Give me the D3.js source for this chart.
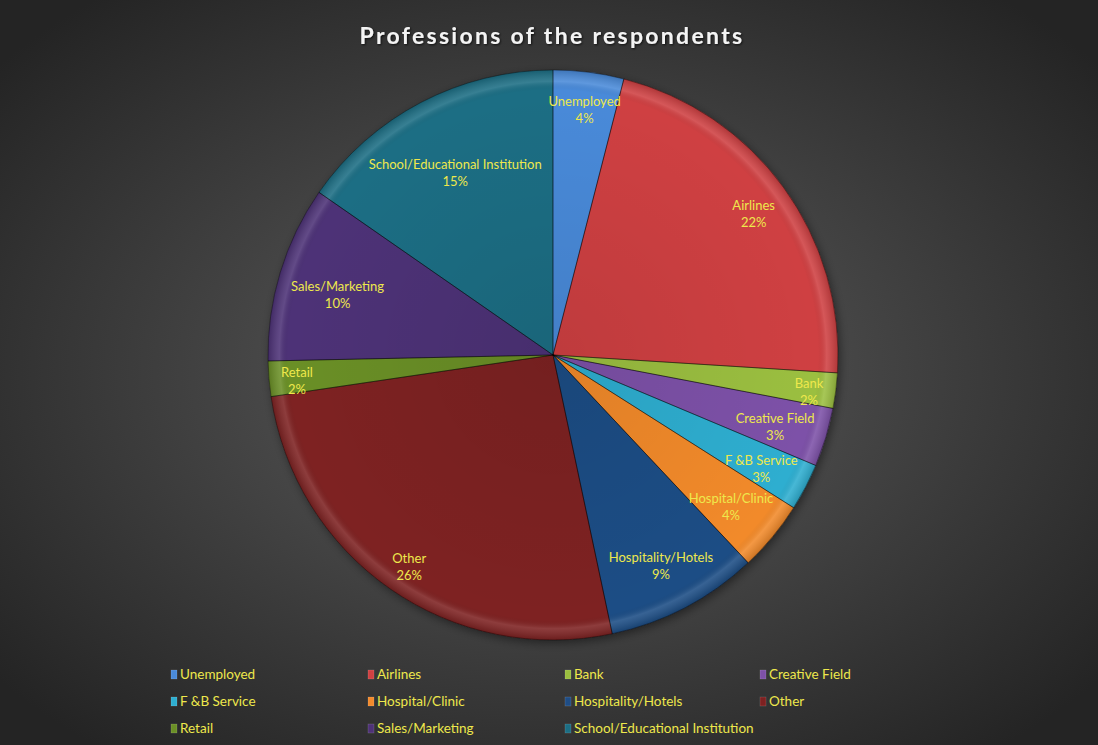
<!DOCTYPE html>
<html>
<head>
<meta charset="utf-8">
<script src="https://cdn.jsdelivr.net/npm/d3@7"></script>
<style>
  html, body { margin: 0; padding: 0; background: #262626; }
  svg { display: block; }
</style>
</head>
<body>
<div id="chart"></div>
<script>
// data (counts, labels show rounded percent)
var categories = ["Unemployed", "Airlines", "Bank", "Creative Field", "F &B Service",
  "Hospital/Clinic", "Hospitality/Hotels", "Other", "Retail", "Sales/Marketing",
  "School/Educational Institution"];
var counts = [6, 33, 3, 5, 4, 6, 13, 39, 3, 15, 23];
var colours = ["#4a8ad9", "#cf4142", "#9bbf3f", "#7d51a8", "#2eaed0",
  "#f28a2c", "#1f4d85", "#7e2121", "#6b8f26", "#4e3277", "#1c6e84"];

var width = 1098, height = 745;
var cx = 553, cy = 355, radius = 285;
var labelColour = "#eee84c";
var font = "Lato, 'Open Sans', sans-serif";

var svg = d3.select("#chart").append("svg")
    .attr("width", width)
    .attr("height", height);

var defs = svg.append("defs");

// background: dark radial gradient
var bg = defs.append("radialGradient").attr("id", "bg")
    .attr("cx", "50%").attr("cy", "50%").attr("r", "65%");
bg.append("stop").attr("offset", "0%").attr("stop-color", "#5e5e5e");
bg.append("stop").attr("offset", "100%").attr("stop-color", "#242424");

svg.append("rect")
    .attr("width", width).attr("height", height)
    .attr("fill", "url(#bg)");

// soft shading over each slice (bevel-ish)
var shade = defs.append("radialGradient").attr("id", "shade")
    .attr("gradientUnits", "userSpaceOnUse")
    .attr("cx", 0).attr("cy", 0).attr("r", radius);
shade.append("stop").attr("offset", "0%").attr("stop-color", "#000").attr("stop-opacity", 0.08);
shade.append("stop").attr("offset", "93%").attr("stop-color", "#000").attr("stop-opacity", 0);
shade.append("stop").attr("offset", "96%").attr("stop-color", "#fff").attr("stop-opacity", 0.12);
shade.append("stop").attr("offset", "100%").attr("stop-color", "#000").attr("stop-opacity", 0.15);

var shadow = defs.append("filter").attr("id", "shadow")
    .attr("x", "-20%").attr("y", "-20%").attr("width", "140%").attr("height", "140%");
shadow.append("feDropShadow")
    .attr("dx", 2).attr("dy", 3).attr("stdDeviation", 5)
    .attr("flood-color", "#000").attr("flood-opacity", 0.45);

var titleShadow = defs.append("filter").attr("id", "tshadow");
titleShadow.append("feDropShadow")
    .attr("dx", 1).attr("dy", 1).attr("stdDeviation", 1.2)
    .attr("flood-color", "#000").attr("flood-opacity", 0.7);

// title
svg.append("text")
    .attr("x", 552).attr("y", 44)
    .attr("text-anchor", "middle")
    .attr("fill", "#f4f4f4")
    .attr("font-family", font)
    .attr("font-weight", "bold")
    .attr("font-size", 23)
    .attr("letter-spacing", 2.3)
    .attr("filter", "url(#tshadow)")
    .text("Professions of the respondents");

var total = d3.sum(counts);
var pieData = d3.pie().sort(null).value(function(d) { return d; })(counts);
var arc = d3.arc().innerRadius(0).outerRadius(radius);

var g = svg.append("g").attr("transform", "translate(" + cx + "," + cy + ")");

var slices = g.append("g").attr("filter", "url(#shadow)");
slices.selectAll("path.slice")
  .data(pieData)
  .enter().append("path")
    .attr("class", "slice")
    .attr("d", arc)
    .attr("fill", function(d, i) { return colours[i]; });

g.selectAll("path.shade")
  .data(pieData)
  .enter().append("path")
    .attr("class", "shade")
    .attr("d", arc)
    .attr("fill", "url(#shade)")
    .attr("stroke", "rgba(0,0,0,0.35)")
    .attr("stroke-width", 1);

// data labels, pushed out as far as the text box fits inside the slice edge
var labels = g.selectAll("g.label")
  .data(pieData)
  .enter().append("g")
    .attr("class", "label");

labels.append("text")
    .attr("text-anchor", "middle")
    .attr("font-family", font)
    .attr("font-size", 13)
    .attr("fill", labelColour)
    .each(function(d, i) {
      var t = d3.select(this);
      t.append("tspan").attr("x", 0).attr("dy", "-0.25em").text(categories[i]);
      t.append("tspan").attr("x", 0).attr("dy", "1.3em")
        .text(Math.round(d.value / total * 100) + "%");
    });

labels.attr("transform", function(d) {
  var box = this.getBBox();
  var w = box.width / 2, h = 16;
  var a = (d.startAngle + d.endAngle) / 2;
  var sx = Math.sin(a), sy = -Math.cos(a);
  var limit = radius - 10, r = limit;
  while (r > 0) {
    var fx = Math.abs(r * sx) + w, fy = Math.abs(r * sy) + h;
    if (Math.sqrt(fx * fx + fy * fy) <= limit) break;
    r -= 1;
  }
  return "translate(" + (r * sx) + "," + (r * sy + 4) + ")";
});

// legend
var legendCols = [171, 368, 565, 760];
var legendRows = [674, 701, 728];
var legend = svg.selectAll("g.legend")
  .data(categories)
  .enter().append("g")
    .attr("class", "legend")
    .attr("transform", function(d, i) {
      return "translate(" + legendCols[i % 4] + "," + legendRows[Math.floor(i / 4)] + ")";
    });

legend.append("rect")
    .attr("x", 0).attr("y", -4)
    .attr("width", 6).attr("height", 9)
    .attr("fill", function(d, i) { return colours[i]; })
    .attr("stroke", "rgba(255,255,255,0.25)")
    .attr("stroke-width", 0.5);

legend.append("text")
    .attr("x", 9).attr("y", 5)
    .attr("font-family", font)
    .attr("font-size", 13.5)
    .attr("fill", labelColour)
    .text(function(d) { return d; });
</script>
</body>
</html>
